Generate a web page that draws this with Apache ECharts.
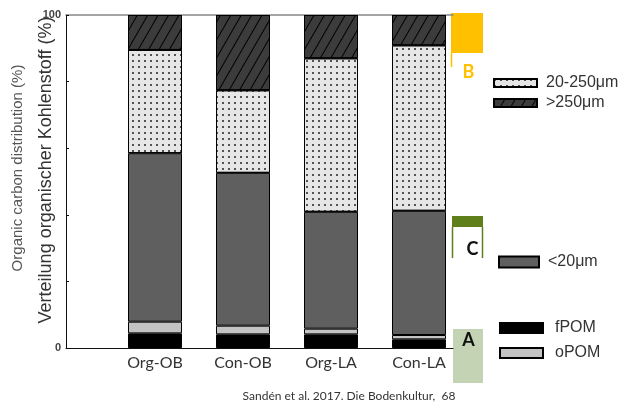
<!DOCTYPE html>
<html>
<head>
<meta charset="utf-8">
<script src="https://cdn.jsdelivr.net/npm/echarts@6/dist/echarts.min.js"></script>
<style>
  html, body { margin: 0; padding: 0; background: #fff; }
  #chart { width: 626px; height: 416px; }
</style>
</head>
<body>
<div id="chart"></div>
<script>
// Organic carbon distribution among fractions (%), stacked bottom to top
const categories = ['Org-OB', 'Con-OB', 'Org-LA', 'Con-LA'];
const fPOM      = [4.4, 4.1, 4.1, 2.6];
const oPOM      = [3.5, 2.6, 1.7, 1.3];
const lt20      = [50.6, 45.9, 35.1, 37.3];
const mid20_250 = [31.0, 24.8, 46.1, 49.7];
const gt250     = [10.5, 22.6, 13.0, 9.1];
const yTicks    = [0, 100];

const FONT = 'Liberation Sans, Arial, sans-serif';
const CAT_FONT = 'Lato, "Open Sans", sans-serif';

const chart = echarts.init(document.getElementById('chart'), null, { renderer: 'canvas' });

function bar(name, data, color, decal) {
  const s = {
    name: name,
    type: 'bar',
    stack: 'total',
    xAxisIndex: 2,
    yAxisIndex: 1,
    barWidth: 54,
    data: data,
    itemStyle: { color: color, borderColor: '#000', borderWidth: 1 },
    emphasis: { disabled: true }
  };
  if (decal) s.itemStyle.decal = decal;
  return s;
}

const dotDecal = {
  symbol: 'circle',
  symbolSize: 1,
  dashArrayX: [[2, 4]],
  dashArrayY: [2, 4],
  color: '#222'
};
const hatchDecal = {
  symbol: 'rect',
  symbolSize: 1,
  dashArrayX: [1, 0],
  dashArrayY: [1, 8],
  rotation: -Math.PI / 3,
  color: '#000'
};

const legendText = { fontFamily: FONT, fontSize: 16, color: '#333', lineHeight: 16, padding: [0, 0, 0, 4] };

const option = {
  animation: false,
  backgroundColor: '#fff',
  grid: [
    { left: 66, right: 173, top: 15, bottom: 68 },
    { left: 111, right: 163, top: 15, bottom: 68 }
  ],
  xAxis: [
    { gridIndex: 0, type: 'value', min: 0, max: 1, position: 'bottom',
      axisLine: { show: true, lineStyle: { color: '#111', width: 1 } },
      axisTick: { show: false }, axisLabel: { show: false }, splitLine: { show: false } },
    { gridIndex: 0, type: 'value', min: 0, max: 1, position: 'top',
      axisLine: { show: true, lineStyle: { color: '#888', width: 1.5 } },
      axisTick: { show: false }, axisLabel: { show: false }, splitLine: { show: false } },
    { gridIndex: 1, type: 'category', data: categories,
      axisLine: { show: false }, axisTick: { show: false },
      axisLabel: { fontFamily: CAT_FONT, fontSize: 16, color: '#333', margin: 7 } }
  ],
  yAxis: [
    { gridIndex: 0, type: 'value', min: 0, max: 100, interval: 20,
      axisLine: { show: true, lineStyle: { color: '#111', width: 1 } },
      axisTick: { show: true, inside: true, length: 3, lineStyle: { color: '#111' } },
      axisLabel: { fontFamily: FONT, fontSize: 11, fontWeight: 'bold', color: '#444', margin: 5,
        formatter: v => (yTicks.indexOf(v) >= 0 ? String(v) : '') },
      splitLine: { show: false } },
    { gridIndex: 1, type: 'value', min: 0, max: 100, show: false }
  ],
  legend: [
    { data: ['20-250μm', '>250μm'], orient: 'vertical', left: 493, top: 75, padding: 0, icon: 'rect',
      itemWidth: 43, itemHeight: 8, itemGap: 4, textStyle: legendText, selectedMode: false },
    { data: ['<20μm'], left: 498, top: 254, padding: 0, icon: 'rect',
      itemWidth: 40, itemHeight: 11, textStyle: legendText, selectedMode: false },
    { data: ['fPOM', 'oPOM'], orient: 'vertical', left: 499, top: 320, padding: 0, icon: 'rect',
      itemWidth: 43, itemHeight: 10, itemGap: 9,
      textStyle: Object.assign({}, legendText, { padding: [0, 0, 0, 7] }), selectedMode: false }
  ],
  series: [
    bar('fPOM', fPOM, '#000'),
    bar('oPOM', oPOM, '#c3c3c3'),
    bar('<20μm', lt20, '#5f5f5f'),
    bar('20-250μm', mid20_250, '#e6e6e6', dotDecal),
    bar('>250μm', gt250, '#3c3c3c', hatchDecal)
  ],
  graphic: [
    // axis titles
    { type: 'text', x: 18, y: 168, rotation: Math.PI / 2,
      style: { text: 'Organic carbon distribution (%)', fontFamily: FONT, fontSize: 15, fill: '#555',
        textAlign: 'center', textVerticalAlign: 'middle' } },
    { type: 'text', x: 46, y: 170, rotation: Math.PI / 2,
      style: { text: 'Verteilung organischer Kohlenstoff (%)', fontFamily: FONT, fontSize: 18, fill: '#333',
        textAlign: 'center', textVerticalAlign: 'middle' } },
    // group bracket B
    { type: 'rect', shape: { x: 451, y: 13, width: 32, height: 40 }, style: { fill: '#FFC000' } },
    { type: 'line', shape: { x1: 451.5, y1: 53, x2: 451.5, y2: 67 }, style: { stroke: '#FFC000', lineWidth: 1.5 } },
    { type: 'text', x: 468.5, y: 72, style: { text: 'B', fontFamily: CAT_FONT, fontSize: 18, fontWeight: 'bold',
        fill: '#FFC000', textAlign: 'center', textVerticalAlign: 'middle' } },
    // group bracket C
    { type: 'rect', shape: { x: 452, y: 216, width: 31, height: 11 }, style: { fill: '#5f7f1a' } },
    { type: 'line', shape: { x1: 452.5, y1: 227, x2: 452.5, y2: 258 }, style: { stroke: '#5f7f1a', lineWidth: 1.5 } },
    { type: 'line', shape: { x1: 482.5, y1: 227, x2: 482.5, y2: 258 }, style: { stroke: '#5f7f1a', lineWidth: 1.5 } },
    { type: 'text', x: 472.5, y: 249, style: { text: 'C', fontFamily: CAT_FONT, fontSize: 18, fontWeight: 'bold',
        fill: '#111', textAlign: 'center', textVerticalAlign: 'middle' } },
    // group bracket A
    { type: 'rect', shape: { x: 453, y: 329, width: 30, height: 54 }, style: { fill: '#c4d3b4' } },
    { type: 'text', x: 468.5, y: 340, style: { text: 'A', fontFamily: CAT_FONT, fontSize: 18, fontWeight: 'bold',
        fill: '#111', textAlign: 'center', textVerticalAlign: 'middle' } },
    // source
    { type: 'text', x: 349, y: 396, style: { text: 'Sandén et al. 2017. Die Bodenkultur,  68', fontFamily: CAT_FONT,
        fontSize: 12, fill: '#333', textAlign: 'center', textVerticalAlign: 'middle' } }
  ]
};

chart.setOption(option);
</script>
</body>
</html>
